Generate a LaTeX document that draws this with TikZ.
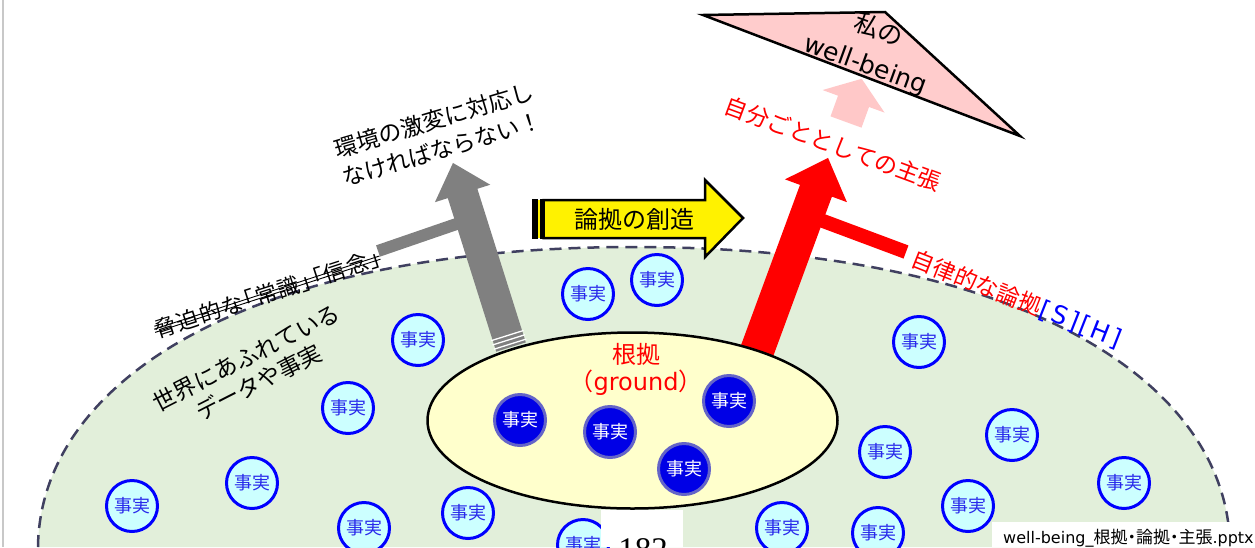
\documentclass[tikz,border=0pt]{standalone}
\usepackage{fontspec}
\setmainfont{Noto Sans CJK JP}
\newfontfamily\jpp[RawFeature=+palt]{Noto Sans CJK JP}
\newfontfamily\jpps[RawFeature=+palt,LetterSpace=7]{Noto Sans CJK JP}
\newfontfamily\lat{DejaVu Sans}
\newfontfamily\latw[LetterSpace=10]{DejaVu Sans}
\newfontfamily\numfont{Liberation Serif}
\usetikzlibrary{calc,shapes.geometric}
\definecolor{bggreen}{RGB}{226,239,218}
\definecolor{dashcol}{RGB}{64,64,96}
\definecolor{factfill}{RGB}{204,255,255}
\definecolor{factblue}{RGB}{0,0,255}
\definecolor{facttext}{RGB}{40,40,235}
\definecolor{darkfill}{RGB}{0,0,230}
\definecolor{darkring}{RGB}{100,100,200}
\definecolor{groundfill}{RGB}{255,255,204}
\definecolor{pinkfill}{RGB}{255,204,204}
\definecolor{pinkarrow}{RGB}{255,200,200}
\definecolor{arrowgray}{RGB}{128,128,128}
\definecolor{edgegray}{RGB}{200,200,200}
\newcommand\setfs[2]{\fontsize{#1}{#2}\selectfont}
\begin{document}
\begin{tikzpicture}[x=1pt,y=-1pt,
  fact/.style={circle,draw=factblue,fill=factfill,line width=3pt,minimum size=51pt,inner sep=0pt,text=facttext,font=\setfs{18}{18}},
  darkfact/.style={circle,draw=darkring,fill=darkfill,line width=3pt,minimum size=51pt,inner sep=0pt,text=white,font=\setfs{18}{18}},
  worldedge/.style={dashcol,line width=2.5pt,dash pattern=on 12pt off 7pt},
  strike/.style={black,line width=0.9pt}]
\useasboundingbox (0,0) rectangle (1255,547);
\clip (0,0) rectangle (1255,547);
% world region
\fill[bggreen] (38,547) .. controls (40,380) and (250,247) .. (634,247) .. controls (1018,247) and (1228,380) .. (1230,547) -- cycle;
\draw[worldedge] (38,547) .. controls (40,380) and (250,247) .. (634,247) .. controls (1018,247) and (1228,380) .. (1230,547);
\draw[edgegray,line width=1.5pt] (3,0) -- (3,547);
% facts in the world
\node[fact] (f1) at (588,294) {事実};
\node[fact] (f2) at (657,280) {事実};
\node[fact] (f3) at (418,340) {事実};
\node[fact] (f4) at (348,408) {事実};
\node[fact] (f5) at (252,483) {事実};
\node[fact] (f6) at (132,506) {事実};
\node[fact] (f7) at (364,528) {事実};
\node[fact] (f8) at (468,513) {事実};
\node[fact] (f9) at (583,545) {事実};
\node[fact] (f10) at (782,528) {事実};
\node[fact] (f11) at (878,533) {事実};
\node[fact] (f12) at (968,506) {事実};
\node[fact] (f13) at (885,452) {事実};
\node[fact] (f14) at (919,342) {事実};
\node[fact] (f15) at (1012,435) {事実};
\node[fact] (f16) at (1124,483) {事実};
% gray arrow
\draw[arrowgray,line width=12pt] (378,251) -- (471,219);
\begin{scope}[shift={(511,347)},rotate=17.5]
  \fill[arrowgray] (-15.5,0) -- (-15.5,-161) -- (-29,-161) -- (0,-193) -- (29,-161) -- (15.5,-161) -- (15.5,0) -- cycle;
  \draw[white,line width=1.3pt] (-17,-3) -- (17,-3) (-17,-7.5) -- (17,-7.5) (-17,-12) -- (17,-12);
\end{scope}
% red arrow
\draw[red,line width=14pt] (807,215) -- (906,252);
\begin{scope}[shift={(750,370)},rotate=-20.2]
  \fill[red] (-17,0) -- (-17,-191) -- (-33,-191) -- (0,-226) -- (33,-191) -- (17,-191) -- (17,0) -- cycle;
\end{scope}
% ground
\node[ellipse,draw=black,fill=groundfill,line width=2.5pt,minimum width=410pt,minimum height=176pt,inner sep=0pt] (ground) at (632.5,420.5) {};
\node[darkfact] (g1) at (520,420) {事実};
\node[darkfact] (g2) at (610,432) {事実};
\node[darkfact] (g3) at (729,401) {事実};
\node[darkfact] (g4) at (684,469) {事実};
\node[text=red,align=center,font=\setfs{24}{27}] (groundlabel) at (636,369) {根拠\\（{\lat\setfs{24}{27}ground}）};
% labels
\node[rotate=16.5,align=center,font=\setfs{23}{30}] (env) at (438,134.5) {環境の激変に対応し\\なければならない！};
\node[rotate=27,align=center,font=\setfs{23}{27.5}] (world) at (252.5,370) {世界にあふれている\\データや事実};
\node[rotate=18,anchor=west,inner sep=0pt,font=\jpps\setfs{22}{22}] (belief) at (154.5,330.4) {脅迫的な「常識」「信念」};
\draw[strike] ($(belief.south west)!0.40!(belief.north west)$) -- ($(belief.south east)!0.40!(belief.north east)$);
\draw[strike] ($(belief.south west)!0.56!(belief.north west)$) -- ($(belief.south east)!0.56!(belief.north east)$);
\node[rotate=-20.3,text=red,font=\setfs{23}{23}] (claim) at (833,144) {自分ごととしての主張};
\node[rotate=-21.5,anchor=west,text=red,font=\setfs{23}{23},inner sep=0pt] (autonomy) at (912,258) {自律的な論拠\textcolor{blue}{\latw\setfs{25}{25}[S][H]}};
% yellow striped arrow
\fill[yellow] (532,200) rectangle (545,238);
\fill[black] (531.5,198.75) rectangle (537.5,239.25);
\fill[black] (539.5,198.75) rectangle (543.5,239.25);
\filldraw[fill=yellow,draw=black,line width=2.5pt,line join=miter] (543.5,200) -- (705,200) -- (705,180) -- (743,218) -- (705,257) -- (705,238) -- (543.5,238) -- cycle;
\node[font=\setfs{24}{24}] (create) at (634,219) {論拠の創造};
% pink arrow
\begin{scope}[shift={(846,122)},rotate=-20]
  \fill[pinkarrow] (-16.5,0) -- (-16.5,-22) -- (-33,-22) -- (0,-46) -- (33,-22) -- (16.5,-22) -- (16.5,0) -- cycle;
\end{scope}
% well-being triangle
\filldraw[fill=pinkfill,draw=black,line width=2.5pt,line join=miter] (703,15) -- (885,12) -- (1020,136) -- cycle;
\node[rotate=-20,align=center,font=\setfs{25}{36}] (wb) at (872,48) {私の\\{\lat\setfs{25}{36}well-being}};
% page number and file name
\fill[white] (601,510) rectangle (683,547);
\node[anchor=base,inner sep=0pt,font=\numfont\setfs{33}{33}] (page) at (643,560) {182};
\fill[white] (992,522) rectangle (1255,547);
\node[anchor=base west,inner sep=0pt,font=\jpp\setfs{17}{17}] (fname) at (1003,543) {{\lat\setfs{16}{16}well-being\_}根拠・論拠・主張{\lat\setfs{16}{16}.pptx}};
\end{tikzpicture}
\end{document}
